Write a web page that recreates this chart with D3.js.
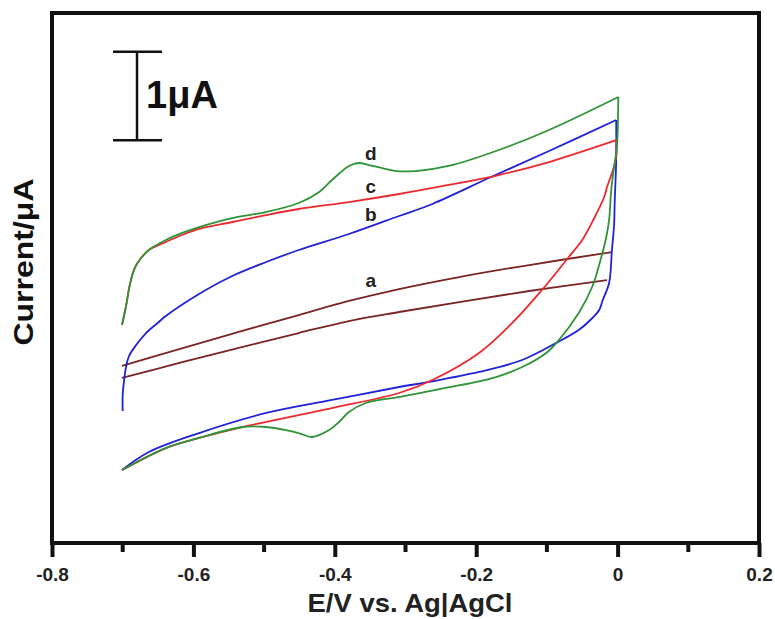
<!DOCTYPE html>
<html>
<head>
<meta charset="utf-8">
<script src="https://cdn.jsdelivr.net/npm/d3@7"></script>
<style>
  body { margin: 0; background: #fff; }
  svg { display: block; font-family: "Liberation Sans", Arial, sans-serif; font-weight: bold; }
</style>
</head>
<body>
<div id="graph"></div>
<script>
// potential (V vs Ag|AgCl) and current (uA), in drawing order
// curve a: two nearly straight branches
const aUpE = [-0.701, -0.620, -0.536, -0.451, -0.380, -0.309, -0.224, -0.125, -0.008];
const aUpI = [-0.996, -0.804, -0.611, -0.419, -0.260, -0.125, 0.011, 0.147, 0.294];
const aLoE = [-0.015, -0.125, -0.224, -0.309, -0.380, -0.451, -0.536, -0.620, -0.701];
const aLoI = [-0.023, -0.147, -0.272, -0.385, -0.487, -0.623, -0.792, -0.962, -1.132];

const bE = [-0.700, -0.700, -0.698, -0.695, -0.691, -0.681, -0.667, -0.649, -0.639, -0.592,
            -0.545, -0.497, -0.451, -0.380, -0.309, -0.262, -0.179, -0.097, -0.002,
            -0.002, -0.004, -0.005, -0.008, -0.012, -0.021, -0.026, -0.040, -0.055, -0.087,
            -0.135, -0.196, -0.267, -0.309, -0.404, -0.497, -0.592, -0.663, -0.701];
const bI = [-1.506, -1.325, -1.155, -0.996, -0.883, -0.759, -0.623, -0.498, -0.430, -0.181,
            0.023, 0.181, 0.317, 0.498, 0.702, 0.838, 1.143, 1.438, 1.789,
            1.336, 0.883, 0.600, 0.317, -0.057, -0.249, -0.362, -0.487, -0.589, -0.736,
            -0.928, -1.064, -1.177, -1.234, -1.381, -1.528, -1.755, -1.970, -2.174];

const cE = [-0.701, -0.695, -0.690, -0.683, -0.674, -0.663, -0.639, -0.616, -0.592, -0.545,
            -0.497, -0.451, -0.380, -0.309, -0.239, -0.168, -0.097, -0.002,
            -0.002, -0.008, -0.015, -0.019, -0.033, -0.050, -0.069, -0.107, -0.149,
            -0.196, -0.262, -0.309, -0.404, -0.497, -0.531, -0.592, -0.639, -0.701];
const cI = [-0.532, -0.306, -0.079, 0.113, 0.226, 0.317, 0.408, 0.487, 0.555, 0.634,
            0.713, 0.781, 0.860, 0.951, 1.053, 1.166, 1.313, 1.560,
            1.370, 1.189, 1.030, 0.917, 0.679, 0.430, 0.238, -0.136, -0.509,
            -0.849, -1.155, -1.302, -1.472, -1.630, -1.687, -1.811, -1.925, -2.174];

const dE = [-0.701, -0.695, -0.690, -0.683, -0.674, -0.663, -0.639, -0.616, -0.592, -0.545,
            -0.497, -0.451, -0.422, -0.404, -0.380, -0.366, -0.352, -0.333, -0.313, -0.285,
            -0.239, -0.168, -0.097, 0.001,
            -0.001, -0.005, -0.009, -0.012, -0.016, -0.023, -0.036, -0.055, -0.083, -0.101,
            -0.135, -0.172, -0.243, -0.309, -0.356, -0.380, -0.394, -0.408, -0.432, -0.451,
            -0.469, -0.497, -0.531, -0.592, -0.639, -0.701];
const dI = [-0.532, -0.306, -0.079, 0.113, 0.226, 0.317, 0.430, 0.510, 0.577, 0.679,
            0.747, 0.849, 0.974, 1.109, 1.268, 1.302, 1.279, 1.245, 1.211, 1.211,
            1.268, 1.449, 1.676, 2.049,
            1.483, 1.257, 0.996, 0.657, 0.464, 0.238, -0.102, -0.396, -0.702, -0.849,
            -1.008, -1.121, -1.245, -1.347, -1.415, -1.517, -1.630, -1.721, -1.800, -1.755,
            -1.721, -1.687, -1.687, -1.811, -1.925, -2.174];

const curveNames = ["a", "b", "c", "d"];
const curveColors = ["#7a2424", "#1f22d8", "#ea2a2e", "#2f9438"];
// index of the switching point (sharp corner) in each cycle
const bTurn = 18, cTurn = 17, dTurn = 23;
// where each letter sits (E, I)
const labelE = [-0.349, -0.349, -0.349, -0.349];
const labelI = [-0.102, 0.645, 0.962, 1.336];

const xTicks = [-0.8, -0.6, -0.4, -0.2, 0, 0.2];
const xMinor = [-0.7, -0.5, -0.3, -0.1, 0.1];
const scaleBarTop = 2.56;   // uA
const scaleBarSize = 1;     // uA

const W = 775, H = 619;
const box = { left: 52, right: 759, top: 13, bottom: 543 };

let svg = d3.select("#graph").append("svg")
    .attr("width", W)
    .attr("height", H);

let x = d3.scaleLinear().domain([-0.8, 0.2]).range([box.left, box.right]);
let y = d3.scaleLinear().domain([-3, 3]).range([box.bottom, box.top]);

let line = d3.line()
    .x(d => x(d[0]))
    .y(d => y(d[1]))
    .curve(d3.curveCatmullRom.alpha(0.5));

function zipPts(E, I) { return E.map((e, k) => [e, I[k]]); }

// each entry: [points, color]; cycles are cut at the switching point so the corner stays sharp
let pieces = [];
pieces.push([zipPts(aUpE, aUpI), curveColors[0]]);
pieces.push([zipPts(aLoE, aLoI), curveColors[0]]);
[[bE, bI, bTurn, 1], [cE, cI, cTurn, 2], [dE, dI, dTurn, 3]].forEach(function(s) {
    let pts = zipPts(s[0], s[1]);
    pieces.push([pts.slice(0, s[2] + 1), curveColors[s[3]]]);
    pieces.push([pts.slice(s[2]), curveColors[s[3]]]);
});

pieces.forEach(function(p) {
    svg.append("path")
        .datum(p[0])
        .attr("fill", "none")
        .attr("stroke", p[1])
        .attr("stroke-width", 1.8)
        .attr("stroke-linejoin", "round")
        .attr("d", line);
});

// letters next to curves
svg.selectAll("text.lbl").data(curveNames).enter()
    .append("text")
    .attr("class", "lbl")
    .attr("x", (d, i) => x(labelE[i]))
    .attr("y", (d, i) => y(labelI[i]))
    .attr("text-anchor", "middle")
    .attr("fill", "#222")
    .style("font-size", "19px")
    .text(d => d);

// frame
svg.append("rect")
    .attr("x", box.left).attr("y", box.top)
    .attr("width", box.right - box.left)
    .attr("height", box.bottom - box.top)
    .attr("fill", "none")
    .attr("stroke", "#111")
    .attr("stroke-width", 4);

// x axis, ticks pointing down
let xAxis = svg.append("g")
    .attr("transform", `translate(0,${box.bottom})`)
    .call(d3.axisBottom(x).tickValues(xTicks).tickSize(14).tickPadding(11)
        .tickFormat(d => d === 0 ? "0" : d.toFixed(1)));
xAxis.select(".domain").remove();
xAxis.selectAll(".tick line").attr("stroke", "#111").attr("stroke-width", 4);
xAxis.selectAll(".tick text")
    .attr("fill", "#222")
    .style("font-size", "19px")
    .style("font-family", "Liberation Sans, Arial, sans-serif")
    .style("font-weight", "bold");

svg.append("g").selectAll("line").data(xMinor).enter()
    .append("line")
    .attr("x1", d => x(d)).attr("x2", d => x(d))
    .attr("y1", box.bottom).attr("y2", box.bottom + 9)
    .attr("stroke", "#111")
    .attr("stroke-width", 4);

// axis titles
svg.append("text")
    .attr("x", 410)
    .attr("y", 612)
    .attr("text-anchor", "middle")
    .attr("textLength", 205)
    .attr("lengthAdjust", "spacingAndGlyphs")
    .style("font-size", "25px")
    .attr("fill", "#222")
    .text("E/V vs. Ag|AgCl");

svg.append("text")
    .attr("transform", `translate(33,262) rotate(-90)`)
    .attr("text-anchor", "middle")
    .attr("textLength", 167)
    .attr("lengthAdjust", "spacingAndGlyphs")
    .style("font-size", "28px")
    .attr("fill", "#111")
    .text("Current/\u03bcA");

// 1 uA scale bar
let barX = 137;
let bar = svg.append("g").attr("stroke", "#111").attr("stroke-width", 2.5);
bar.append("line")
    .attr("x1", barX).attr("x2", barX)
    .attr("y1", y(scaleBarTop)).attr("y2", y(scaleBarTop - scaleBarSize));
[scaleBarTop, scaleBarTop - scaleBarSize].forEach(function(v) {
    bar.append("line")
        .attr("x1", barX - 24).attr("x2", barX + 25)
        .attr("y1", y(v)).attr("y2", y(v));
});
svg.append("text")
    .attr("x", 146)
    .attr("y", 108)
    .style("font-size", "38px")
    .attr("fill", "#111")
    .text("1\u03bcA");
</script>
</body>
</html>
